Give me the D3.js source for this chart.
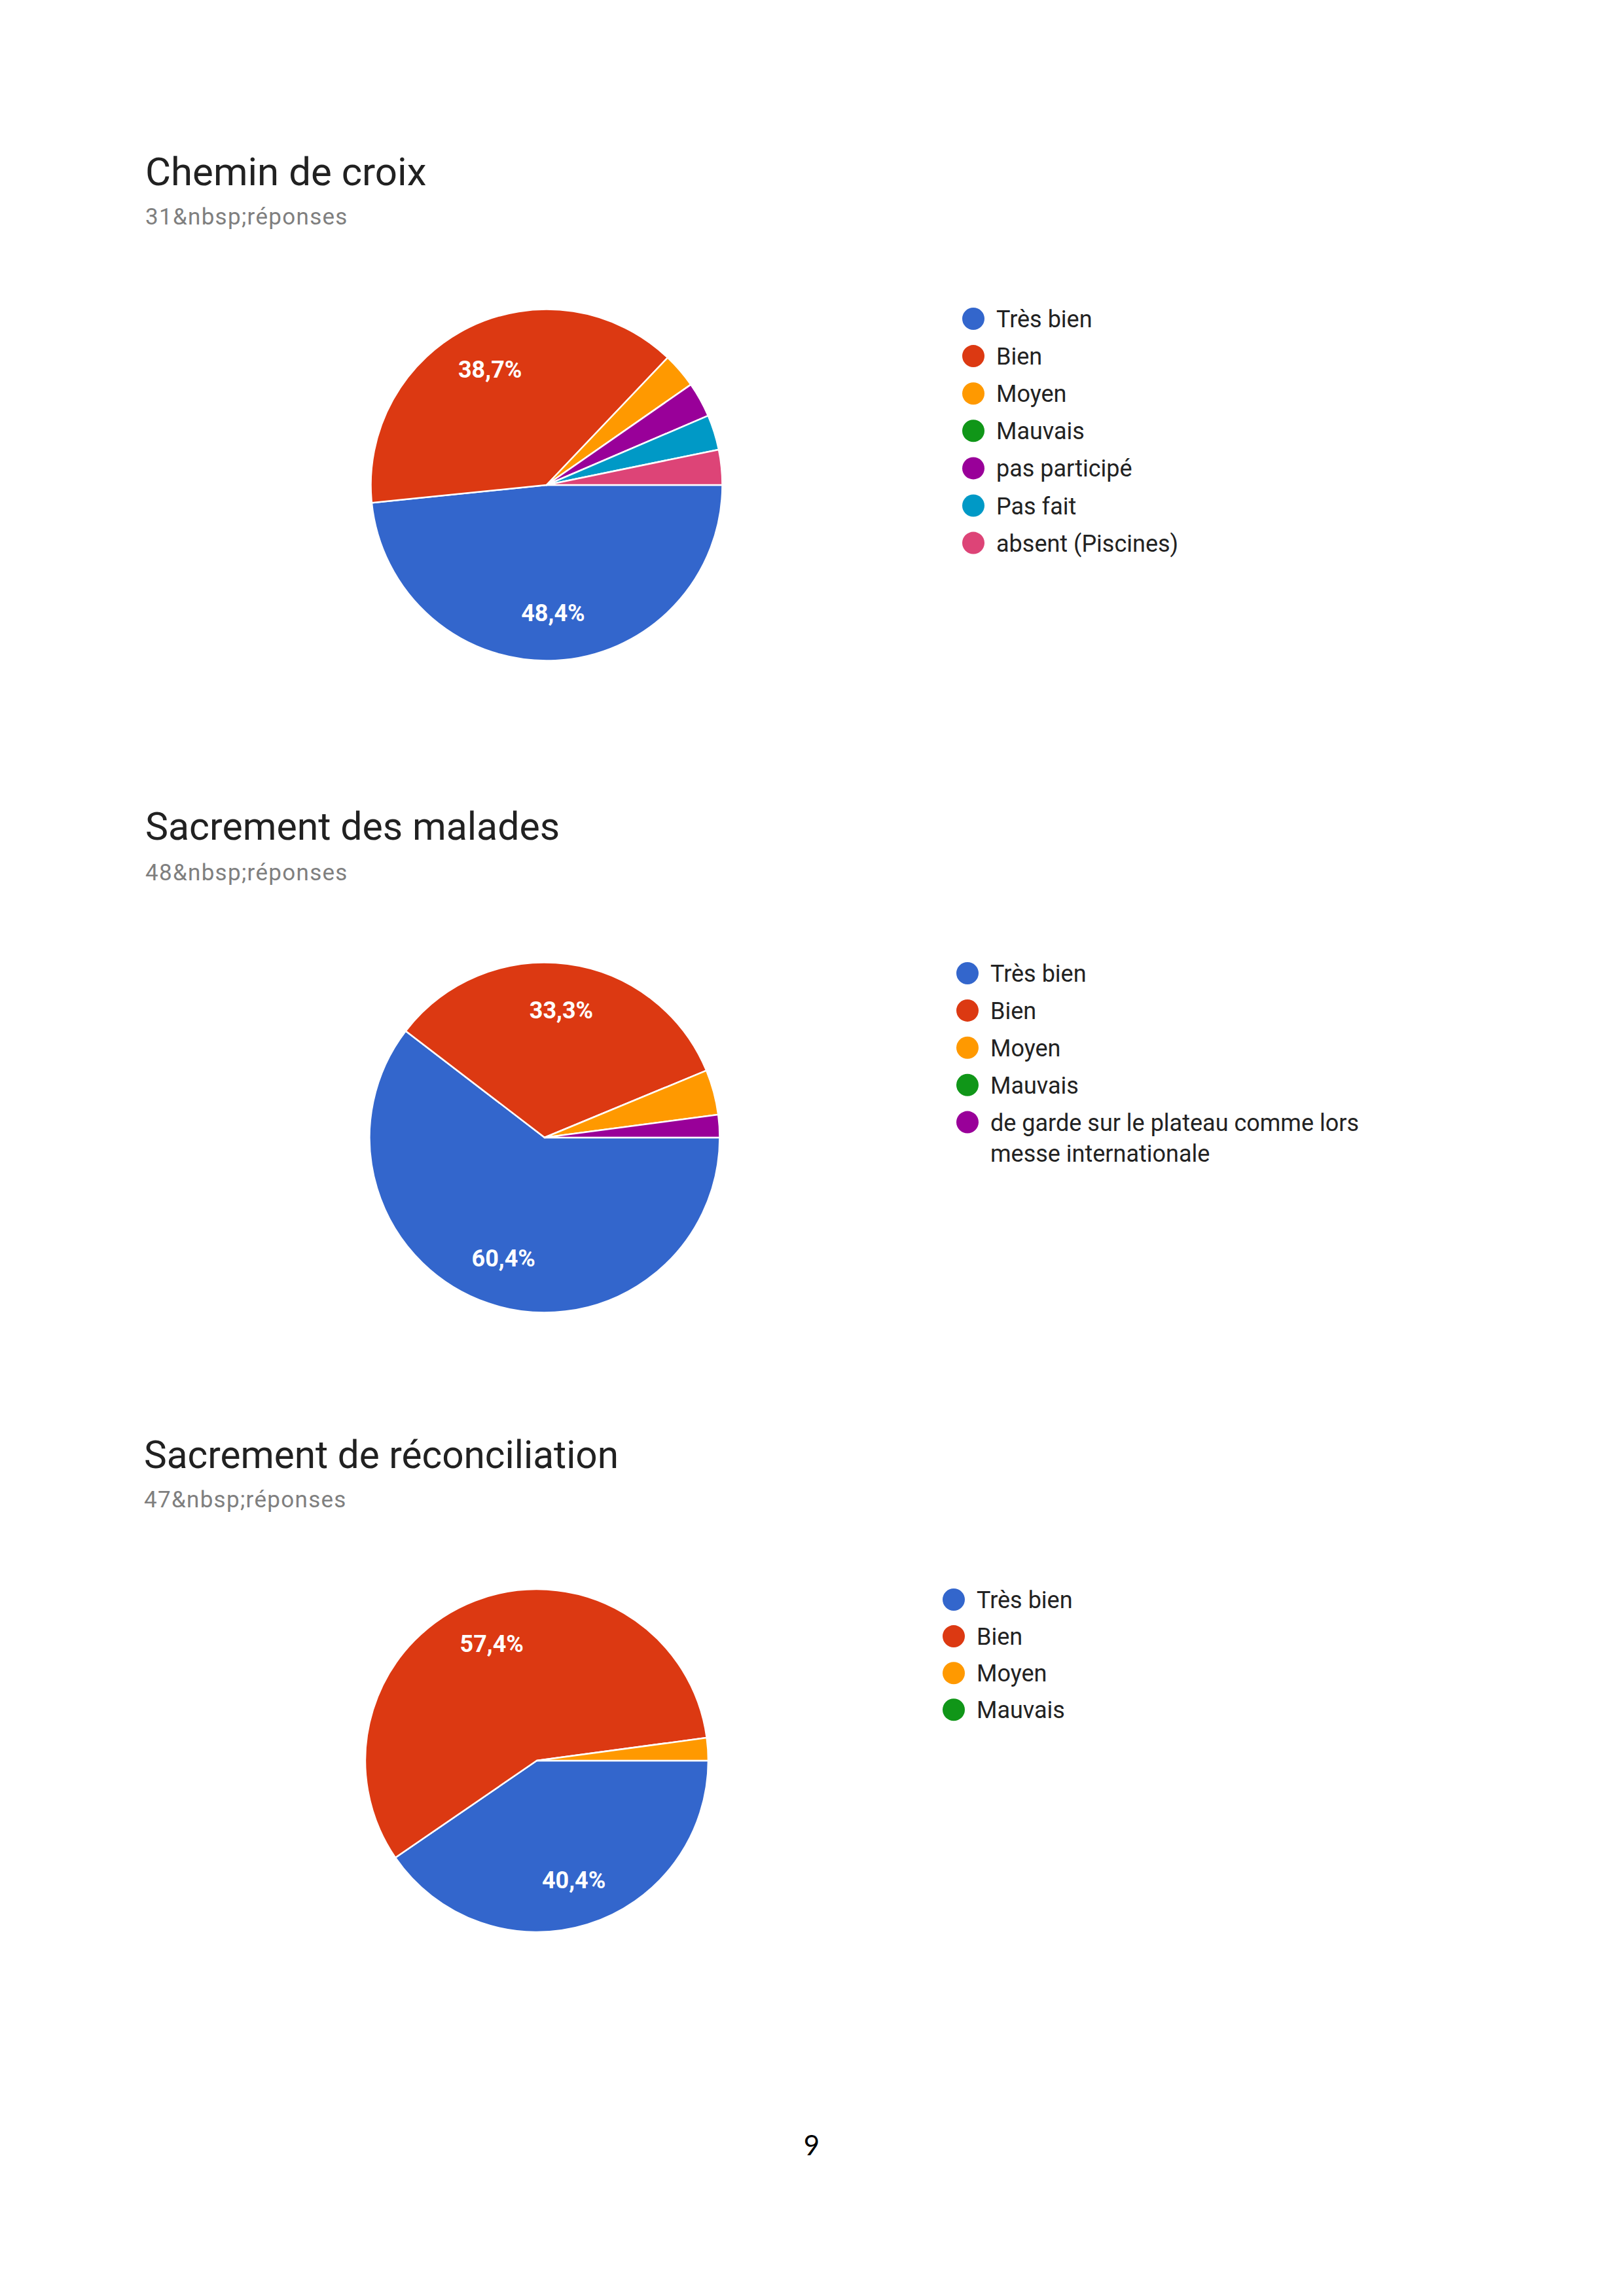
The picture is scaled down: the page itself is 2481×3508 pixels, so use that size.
<!DOCTYPE html>
<html>
<head>
<meta charset="utf-8">
<script src="https://cdn.jsdelivr.net/npm/d3@7"></script>
<style>
  html, body { margin: 0; padding: 0; background: #ffffff; }
  svg { display: block; }
</style>
</head>
<body>
<script>
// ---------- DATA ----------
const titles = ["Chemin de croix", "Sacrement des malades", "Sacrement de réconciliation"];
const subtitles = ["31&nbsp;réponses", "48&nbsp;réponses", "47&nbsp;réponses"];

const categories1 = ["Très bien", "Bien", "Moyen", "Mauvais", "pas participé", "Pas fait", "absent (Piscines)"];
const values1 = [15, 12, 1, 0, 1, 1, 1];

const categories2 = ["Très bien", "Bien", "Moyen", "Mauvais", "de garde sur le plateau comme lors|messe internationale"];
const values2 = [29, 16, 2, 0, 1];

const categories3 = ["Très bien", "Bien", "Moyen", "Mauvais"];
const values3 = [19, 27, 1, 0];

const pageNumber = "9";

// ---------- STYLE / LAYOUT ----------
const palette = ["#3366cc", "#dc3912", "#ff9900", "#109618", "#990099", "#0099c6", "#dd4477"];
const W = 2481, H = 3508;

const layout = [
  { titleX: 222, titleY: 283, titleSize: 60, subY: 343, cx: 835, cy: 741, r: 268.5, legX: 1487, legY: 487, legStep: 57.1 },
  { titleX: 222, titleY: 1283, titleSize: 59, subY: 1345, cx: 832, cy: 1738, r: 267.5, legX: 1478, legY: 1487, legStep: 56.9 },
  { titleX: 220, titleY: 2243, titleSize: 58.5, subY: 2303, cx: 820, cy: 2690, r: 262, legX: 1457, legY: 2444, legStep: 56.1 }
];

const charts = [
  { cats: categories1, vals: values1 },
  { cats: categories2, vals: values2 },
  { cats: categories3, vals: values3 }
];

const svg = d3.select("body").append("svg")
  .attr("width", W).attr("height", H)
  .attr("viewBox", `0 0 ${W} ${H}`);

svg.append("rect").attr("width", W).attr("height", H).attr("fill", "#ffffff");

const fmt = v => v.toFixed(1).replace(".", ",") + "%";

charts.forEach((c, i) => {
  const L = layout[i];
  const g = svg.append("g");

  // Title & subtitle
  g.append("text")
    .attr("x", L.titleX).attr("y", L.titleY)
    .attr("font-family", "Roboto, 'Noto Sans', sans-serif")
    .attr("font-size", L.titleSize)
    .attr("fill", "#212121")
    .text(titles[i]);

  g.append("text")
    .attr("x", L.titleX).attr("y", L.subY)
    .attr("font-family", "Roboto, 'Noto Sans', sans-serif")
    .attr("font-size", 35)
    .attr("letter-spacing", 1.3)
    .attr("fill", "#7f7f7f")
    .text(subtitles[i]);

  // Pie
  const total = d3.sum(c.vals);
  const color = d3.scaleOrdinal().domain(c.cats).range(palette);
  const pie = d3.pie().sort(null).value(d => d.v)
    .startAngle(Math.PI / 2).endAngle(Math.PI / 2 + 2 * Math.PI);
  const arcs = pie(c.cats.map((k, j) => ({ k, v: c.vals[j] })));
  const arc = d3.arc().innerRadius(0).outerRadius(L.r);
  const labelArc = d3.arc().innerRadius(L.r * 0.73).outerRadius(L.r * 0.73);

  const pg = g.append("g").attr("transform", `translate(${L.cx},${L.cy})`);
  pg.selectAll("path").data(arcs.filter(a => a.data.v > 0)).join("path")
    .attr("d", arc)
    .attr("fill", a => color(a.data.k))
    .attr("stroke", "#ffffff")
    .attr("stroke-width", 2.5)
    .attr("stroke-linejoin", "round");

  pg.selectAll("text").data(arcs.filter(a => a.data.v / total >= 0.1)).join("text")
    .attr("transform", a => `translate(${labelArc.centroid(a)})`)
    .attr("text-anchor", "middle")
    .attr("dominant-baseline", "central")
    .attr("font-family", "Roboto, sans-serif")
    .attr("font-weight", "bold")
    .attr("font-size", 36)
    .attr("fill", "#ffffff")
    .text(a => fmt(a.data.v / total * 100));

  // Legend
  const lg = g.append("g").attr("transform", `translate(${L.legX},${L.legY})`);
  c.cats.forEach((k, j) => {
    const row = lg.append("g").attr("transform", `translate(0,${j * L.legStep})`);
    row.append("circle").attr("r", 17).attr("fill", color(k));
    const lines = k.split("|");
    const t = row.append("text")
      .attr("x", 35).attr("y", 0)
      .attr("font-family", "Roboto, 'Noto Sans', sans-serif")
      .attr("font-size", 36)
      .attr("fill", "#222222");
    lines.forEach((ln, li) => {
      t.append("tspan").attr("x", 35).attr("y", 13 + li * 47).text(ln);
    });
  });
});

svg.append("text")
  .attr("x", 1240).attr("y", 3293)
  .attr("text-anchor", "middle")
  .attr("font-family", "Lato, 'Liberation Sans', sans-serif")
  .attr("font-size", 42)
  .attr("fill", "#000000")
  .text(pageNumber);
</script>
</body>
</html>
